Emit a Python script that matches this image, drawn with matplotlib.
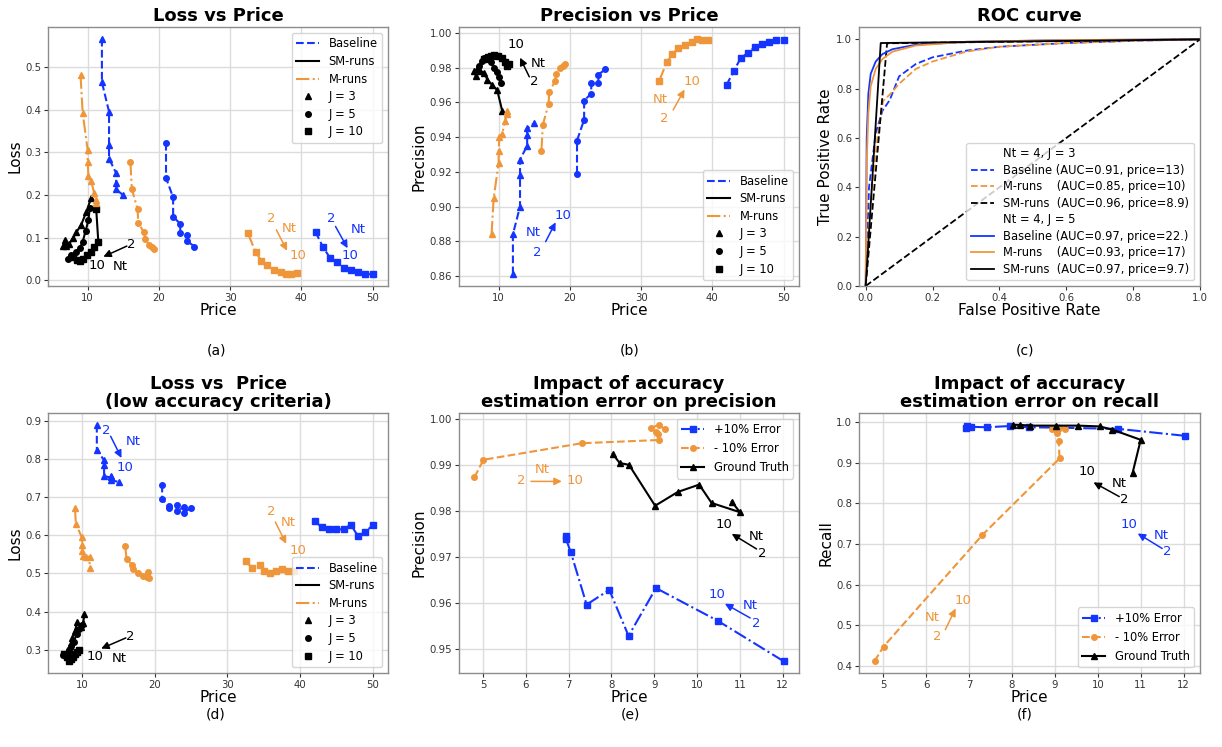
import matplotlib
matplotlib.use('Agg')
import matplotlib.pyplot as plt
from matplotlib.lines import Line2D

W, H = 1222, 747
BLUE = '#1434ff'
ORANGE = '#f0963a'

# ---------------- (a) Loss vs Price ----------------
base_j3_price = [12, 12, 13, 13, 13, 14, 14, 14, 15]
base_j5_price = [21, 21, 22, 22, 23, 23, 24, 24, 25]
base_j10_price = [42, 43, 44, 45, 46, 47, 48, 49, 50]
m_j3_price = [9.0, 9.3, 10.0, 10.0, 10.1, 10.5, 10.9, 11.1, 11.1]
m_j5_price = [16.0, 16.2, 17.0, 17.1, 17.9, 18.1, 18.6, 19.0, 19.3]
m_j10_price = [32.5, 33.6, 34.4, 35.2, 36.1, 37.1, 37.8, 38.5, 39.4]
sm_j3_price = [10.5, 9.8, 9.1, 8.4, 8.0, 7.4, 7.0, 6.8, 6.6]
sm_j5_price = [10.3, 10.1, 9.7, 9.3, 8.9, 8.4, 8.0, 7.6, 7.3]
sm_j10_price = [11.2, 11.5, 10.9, 10.4, 9.9, 9.4, 8.9, 8.5, 8.0]

base_j3_loss = [0.566, 0.464, 0.395, 0.318, 0.285, 0.251, 0.227, 0.213, 0.199]
base_j5_loss = [0.322, 0.240, 0.194, 0.149, 0.132, 0.111, 0.107, 0.091, 0.079]
base_j10_loss = [0.113, 0.079, 0.053, 0.042, 0.029, 0.023, 0.019, 0.014, 0.014]
m_j3_loss = [0.480, 0.392, 0.305, 0.277, 0.244, 0.232, 0.205, 0.189, 0.180]
m_j5_loss = [0.277, 0.214, 0.167, 0.135, 0.112, 0.096, 0.083, 0.079, 0.073]
m_j10_loss = [0.110, 0.065, 0.046, 0.035, 0.025, 0.020, 0.014, 0.014, 0.016]
sm_j3_loss = [0.193, 0.160, 0.130, 0.112, 0.100, 0.085, 0.080, 0.095, 0.080]
sm_j5_loss = [0.170, 0.140, 0.115, 0.090, 0.075, 0.065, 0.055, 0.060, 0.050]
sm_j10_loss = [0.166, 0.089, 0.079, 0.066, 0.058, 0.050, 0.046, 0.048, 0.055]

# ---------------- (b) Precision vs Price ----------------
base_j3_prec = [0.861, 0.884, 0.900, 0.918, 0.927, 0.935, 0.941, 0.945, 0.948]
base_j5_prec = [0.919, 0.938, 0.950, 0.961, 0.965, 0.971, 0.971, 0.976, 0.979]
base_j10_prec = [0.970, 0.978, 0.9855, 0.9885, 0.992, 0.9937, 0.9947, 0.996, 0.996]
m_j3_prec = [0.884, 0.905, 0.925, 0.932, 0.940, 0.942, 0.949, 0.953, 0.955]
m_j5_prec = [0.932, 0.947, 0.959, 0.966, 0.972, 0.9765, 0.9795, 0.981, 0.982]
m_j10_prec = [0.972, 0.983, 0.988, 0.991, 0.993, 0.9947, 0.9966, 0.996, 0.996]
sm_j3_prec = [0.955, 0.967, 0.970, 0.973, 0.977, 0.978, 0.979, 0.975, 0.978]
sm_j5_prec = [0.971, 0.9745, 0.9775, 0.980, 0.983, 0.985, 0.9855, 0.984, 0.981]
sm_j10_prec = [0.981, 0.982, 0.983, 0.9855, 0.9865, 0.987, 0.9865, 0.986, 0.985]

# ---------------- (c) ROC curves ----------------
roc_base3_fpr = [0.0, 0.01, 0.03, 0.05, 0.072, 0.1, 0.15, 0.2, 0.3, 0.4, 0.6, 0.8, 1.0]
roc_base3_tpr = [0.0, 0.40, 0.62, 0.71, 0.754, 0.85, 0.90, 0.927, 0.954, 0.97, 0.985, 0.994, 1.0]
roc_m3_fpr = [0.0, 0.015, 0.035, 0.052, 0.075, 0.1, 0.15, 0.2, 0.3, 0.4, 0.6, 0.8, 1.0]
roc_m3_tpr = [0.0, 0.35, 0.60, 0.75, 0.78, 0.82, 0.88, 0.91, 0.95, 0.97, 0.985, 0.994, 1.0]
roc_sm3_fpr = [0.0, 0.064, 1.0]
roc_sm3_tpr = [0.0, 0.984, 1.0]
roc_base5_fpr = [0.0, 0.003, 0.008, 0.015, 0.03, 0.05, 0.08, 0.15, 0.3, 0.6, 1.0]
roc_base5_tpr = [0.0, 0.60, 0.78, 0.86, 0.91, 0.94, 0.96, 0.978, 0.99, 0.997, 1.0]
roc_m5_fpr = [0.0, 0.003, 0.008, 0.015, 0.03, 0.05, 0.08, 0.15, 0.3, 0.6, 1.0]
roc_m5_tpr = [0.0, 0.50, 0.70, 0.81, 0.88, 0.92, 0.95, 0.975, 0.99, 0.997, 1.0]
roc_sm5_fpr = [0.0, 0.045, 1.0]
roc_sm5_tpr = [0.0, 0.985, 1.0]
chance = [0.0, 1.0]

roc_labels = ['Nt = 4, J = 3',
              'Baseline (AUC=0.91, price=13)',
              'M-runs    (AUC=0.85, price=10)',
              'SM-runs  (AUC=0.96, price=8.9)',
              'Nt = 4, J = 5',
              'Baseline (AUC=0.97, price=22.)',
              'M-runs    (AUC=0.93, price=17)',
              'SM-runs  (AUC=0.97, price=9.7)']

# ---------------- (d) Loss vs Price, low accuracy criteria ----------------
d_base_j3_loss = [0.890, 0.824, 0.797, 0.785, 0.755, 0.752, 0.757, 0.745, 0.740]
d_base_j5_loss = [0.733, 0.695, 0.676, 0.672, 0.680, 0.664, 0.674, 0.659, 0.673]
d_base_j10_loss = [0.637, 0.622, 0.616, 0.616, 0.616, 0.628, 0.598, 0.609, 0.626]
d_m_j3_price = [9.0, 9.1, 9.9, 10.0, 10.0, 10.1, 10.5, 11.0, 11.0]
d_m_j3_loss = [0.671, 0.631, 0.596, 0.574, 0.560, 0.547, 0.543, 0.544, 0.514]
d_m_j5_price = [15.9, 16.1, 16.9, 17.0, 17.7, 18.4, 18.9, 19.0, 19.2]
d_m_j5_loss = [0.572, 0.538, 0.522, 0.512, 0.500, 0.494, 0.490, 0.503, 0.487]
d_m_j10_price = [32.5, 33.4, 34.5, 35.1, 35.9, 36.7, 37.5, 38.3, 39.2]
d_m_j10_loss = [0.534, 0.514, 0.522, 0.507, 0.500, 0.507, 0.511, 0.507, 0.507]
d_sm_j3_price = [10.3, 10.1, 9.8, 9.3, 9.0, 8.6, 8.3, 8.0, 7.7]
d_sm_j3_loss = [0.393, 0.370, 0.360, 0.372, 0.350, 0.330, 0.310, 0.300, 0.290]
d_sm_j5_price = [9.9, 9.6, 9.2, 8.8, 8.5, 8.2, 7.9, 7.6, 7.4]
d_sm_j5_loss = [0.365, 0.355, 0.340, 0.320, 0.310, 0.300, 0.290, 0.290, 0.285]
d_sm_j10_price = [9.5, 9.3, 9.0, 8.7, 8.4, 8.1, 7.9, 7.7, 7.5]
d_sm_j10_loss = [0.300, 0.295, 0.290, 0.280, 0.275, 0.270, 0.280, 0.285, 0.290]

# ---------------- (e)/(f) accuracy estimation error ----------------
plus_price = [12.02, 10.48, 9.04, 8.40, 7.95, 7.42, 7.05, 6.94, 6.95]
plus_prec = [0.9473, 0.9561, 0.9632, 0.9528, 0.9628, 0.9596, 0.9710, 0.9738, 0.9745]
plus_recall = [0.967, 0.984, 0.987, 0.988, 0.991, 0.988, 0.989, 0.986, 0.990]
minus_price = [4.80, 5.01, 7.31, 9.11, 9.09, 9.05, 8.93, 9.10, 9.24]
minus_prec = [0.9873, 0.9911, 0.9947, 0.9954, 0.9968, 0.9972, 0.9980, 0.9987, 0.9978]
minus_recall = [0.411, 0.447, 0.722, 0.911, 0.953, 0.974, 0.984, 0.985, 0.984]
gt_price = [10.81, 11.0, 10.34, 10.05, 9.55, 9.02, 8.41, 8.19, 8.03]
gt_prec = [0.9820, 0.9797, 0.9817, 0.9857, 0.9841, 0.9811, 0.9900, 0.9904, 0.9924]
gt_recall = [0.875, 0.957, 0.982, 0.990, 0.992, 0.992, 0.992, 0.994, 0.994]


plt.rcParams['font.family'] = 'DejaVu Sans'
fig = plt.figure(figsize=(W / 100, H / 100), dpi=100)


def make_ax(l, t, r, b, grid=True):
    ax = fig.add_axes([l / W, 1 - b / H, (r - l) / W, (b - t) / H])
    for s in ax.spines.values():
        s.set_color('#8c8c8c')
        s.set_linewidth(1.0)
    ax.tick_params(labelsize=7.3, colors='#333333', length=3, width=0.8, pad=2)
    if grid:
        ax.grid(True, color='#dcdcdc', linewidth=1.0)
        ax.set_axisbelow(True)
    return ax


def note(ax, color, labels, start, end):
    # labels: list of (text, x, y)
    for txt, x, y in labels:
        ax.text(x, y, txt, color=color, fontsize=9.5, ha='center', va='center')
    ax.annotate('', xy=end, xytext=start,
                arrowprops=dict(arrowstyle='-|>', color=color, lw=1.1,
                                mutation_scale=11, shrinkA=0, shrinkB=0))


def groups(ax, series):
    for price, val, color, ls, mk in series:
        ax.plot(price, val, color=color, linestyle=ls, marker=mk, markersize=4, lw=1.5)


def j_legend(ax, loc):
    handles = [Line2D([], [], color=BLUE, ls='--', lw=1.5),
               Line2D([], [], color='black', ls='-', lw=1.5),
               Line2D([], [], color=ORANGE, ls='-.', lw=1.5),
               Line2D([], [], color='black', ls='none', marker='^', ms=4),
               Line2D([], [], color='black', ls='none', marker='o', ms=4),
               Line2D([], [], color='black', ls='none', marker='s', ms=4)]
    labels = ['Baseline', 'SM-runs', 'M-runs', 'J = 3', 'J = 5', 'J = 10']
    ax.legend(handles, labels, loc=loc, fontsize=8.3, framealpha=0.8,
              labelspacing=0.4)


def labels(ax, title, ylabel, xlabel='Price'):
    ax.set_title(title, fontsize=13, fontweight='bold', pad=4, linespacing=1.0)
    ax.set_xlabel(xlabel, fontsize=11, labelpad=0)
    ax.set_ylabel(ylabel, fontsize=11, labelpad=2)


# (a)
ax = make_ax(48, 27, 388, 286)
groups(ax, [
    (base_j3_price, base_j3_loss, BLUE, '--', '^'),
    (base_j5_price, base_j5_loss, BLUE, '--', 'o'),
    (base_j10_price, base_j10_loss, BLUE, '--', 's'),
    (sm_j3_price, sm_j3_loss, 'black', '-', '^'),
    (sm_j5_price, sm_j5_loss, 'black', '-', 'o'),
    (sm_j10_price, sm_j10_loss, 'black', '-', 's'),
    (m_j3_price, m_j3_loss, ORANGE, '-.', '^'),
    (m_j5_price, m_j5_loss, ORANGE, '-.', 'o'),
    (m_j10_price, m_j10_loss, ORANGE, '-.', 's'),
])
ax.set_xticks([10, 20, 30, 40, 50])
labels(ax, 'Loss vs Price', 'Loss')
j_legend(ax, 'upper right')
note(ax, ORANGE, [('2', 35.8, 0.145), ('Nt', 38.3, 0.122), ('10', 39.5, 0.057)],
     (36.5, 0.118), (38.0, 0.069))
note(ax, BLUE, [('2', 44.2, 0.145), ('Nt', 48.0, 0.120), ('10', 46.8, 0.059)],
     (44.8, 0.126), (46.5, 0.075))
note(ax, 'black', [('2', 16.1, 0.083), ('10', 11.3, 0.034), ('Nt', 14.6, 0.031)],
     (15.5, 0.080), (12.2, 0.055))

# (b)
ax = make_ax(459, 27, 799, 286)
groups(ax, [
    (base_j3_price, base_j3_prec, BLUE, '--', '^'),
    (base_j5_price, base_j5_prec, BLUE, '--', 'o'),
    (base_j10_price, base_j10_prec, BLUE, '--', 's'),
    (sm_j3_price, sm_j3_prec, 'black', '-', '^'),
    (sm_j5_price, sm_j5_prec, 'black', '-', 'o'),
    (sm_j10_price, sm_j10_prec, 'black', '-', 's'),
    (m_j3_price, m_j3_prec, ORANGE, '-.', '^'),
    (m_j5_price, m_j5_prec, ORANGE, '-.', 'o'),
    (m_j10_price, m_j10_prec, ORANGE, '-.', 's'),
])
ax.set_xticks([10, 20, 30, 40, 50])
ax.set_yticks([0.86, 0.88, 0.90, 0.92, 0.94, 0.96, 0.98, 1.00])
labels(ax, 'Precision vs Price', 'Precision')
j_legend(ax, 'lower right')
note(ax, 'black', [('10', 12.4, 0.9931), ('Nt', 15.6, 0.9823), ('2', 15.0, 0.9718)],
     (14.3, 0.9747), (13.0, 0.9857))
note(ax, BLUE, [('Nt', 14.8, 0.885), ('2', 15.4, 0.8737), ('10', 19.1, 0.8947)],
     (16.6, 0.8798), (18.0, 0.8909))
note(ax, ORANGE, [('Nt', 32.7, 0.9617), ('2', 33.3, 0.9509), ('10', 37.1, 0.9718)],
     (34.5, 0.9556), (36.1, 0.9674))

# (c)
ax = make_ax(859, 27, 1200, 286, grid=False)
l1, = ax.plot([], [], color='none')
l2, = ax.plot(roc_base3_fpr, roc_base3_tpr, color=BLUE, ls='--', lw=1.3)
l3, = ax.plot(roc_m3_fpr, roc_m3_tpr, color=ORANGE, ls='--', lw=1.3)
l4, = ax.plot(roc_sm3_fpr, roc_sm3_tpr, color='black', ls='--', lw=1.3)
l5, = ax.plot([], [], color='none')
l6, = ax.plot(roc_base5_fpr, roc_base5_tpr, color=BLUE, ls='-', lw=1.3)
l7, = ax.plot(roc_m5_fpr, roc_m5_tpr, color=ORANGE, ls='-', lw=1.3)
l8, = ax.plot(roc_sm5_fpr, roc_sm5_tpr, color='black', ls='-', lw=1.3)
ax.plot(chance, chance, color='black', ls='--', lw=1.3)
ax.set_xlim(-0.02, 1.0)
ax.set_ylim(0.0, 1.05)
ax.set_xticks([0.0, 0.2, 0.4, 0.6, 0.8, 1.0])
ax.set_yticks([0.0, 0.2, 0.4, 0.6, 0.8, 1.0])
labels(ax, 'ROC curve', 'True Positive Rate', 'False Positive Rate')
ax.legend([l1, l2, l3, l4, l5, l6, l7, l8], roc_labels, loc='lower right',
          fontsize=8.3, framealpha=0.8, handlelength=2.0, labelspacing=0.3)

# (d)
ax = make_ax(48, 413, 388, 673)
groups(ax, [
    (base_j3_price, d_base_j3_loss, BLUE, '--', '^'),
    (base_j5_price, d_base_j5_loss, BLUE, '--', 'o'),
    (base_j10_price, d_base_j10_loss, BLUE, '--', 's'),
    (d_sm_j3_price, d_sm_j3_loss, 'black', '-', '^'),
    (d_sm_j5_price, d_sm_j5_loss, 'black', '-', 'o'),
    (d_sm_j10_price, d_sm_j10_loss, 'black', '-', 's'),
    (d_m_j3_price, d_m_j3_loss, ORANGE, '-.', '^'),
    (d_m_j5_price, d_m_j5_loss, ORANGE, '-.', 'o'),
    (d_m_j10_price, d_m_j10_loss, ORANGE, '-.', 's'),
])
ax.set_xticks([10, 20, 30, 40, 50])
labels(ax, 'Loss vs  Price\n(low accuracy criteria)', 'Loss')
j_legend(ax, 'lower right')
note(ax, BLUE, [('2', 13.3, 0.874), ('Nt', 17.0, 0.847), ('10', 15.9, 0.777)],
     (13.9, 0.860), (15.4, 0.803))
note(ax, ORANGE, [('2', 36.0, 0.662), ('Nt', 38.4, 0.633), ('10', 39.7, 0.560)],
     (36.6, 0.635), (38.1, 0.578))
note(ax, 'black', [('2', 16.6, 0.335), ('10', 11.8, 0.281), ('Nt', 15.1, 0.278)],
     (16.0, 0.331), (12.6, 0.303))


def err_legend(ax, loc):
    handles = [Line2D([], [], color=BLUE, ls='-.', marker='s', ms=4, lw=1.5),
               Line2D([], [], color=ORANGE, ls='--', marker='o', ms=4, lw=1.5),
               Line2D([], [], color='black', ls='-', marker='^', ms=4, lw=1.5)]
    ax.legend(handles, ['+10% Error', '- 10% Error', 'Ground Truth'], loc=loc,
              fontsize=8.3, framealpha=0.8)


# (e)
ax = make_ax(459, 413, 799, 673)
ax.plot(plus_price, plus_prec, color=BLUE, ls='-.', marker='s', ms=4, lw=1.5)
ax.plot(minus_price, minus_prec, color=ORANGE, ls='--', marker='o', ms=4, lw=1.5)
ax.plot(gt_price, gt_prec, color='black', ls='-', marker='^', ms=4, lw=1.5)
ax.set_xticks([5, 6, 7, 8, 9, 10, 11, 12])
ax.set_yticks([0.95, 0.96, 0.97, 0.98, 0.99, 1.00])
labels(ax, 'Impact of accuracy\nestimation error on precision', 'Precision')
err_legend(ax, 'upper right')
note(ax, ORANGE, [('Nt', 6.38, 0.9889), ('2', 5.89, 0.9866), ('10', 7.14, 0.9866)],
     (6.12, 0.9864), (6.84, 0.9864))
note(ax, 'black', [('10', 10.63, 0.9770), ('Nt', 11.39, 0.9745), ('2', 11.53, 0.9708)],
     (11.39, 0.9717), (10.81, 0.9750))
note(ax, BLUE, [('10', 10.47, 0.9618), ('Nt', 11.24, 0.9593), ('2', 11.38, 0.9556)],
     (11.24, 0.9567), (10.65, 0.9598))

# (f)
ax = make_ax(859, 413, 1200, 673)
ax.plot(plus_price, plus_recall, color=BLUE, ls='-.', marker='s', ms=4, lw=1.5)
ax.plot(minus_price, minus_recall, color=ORANGE, ls='--', marker='o', ms=4, lw=1.5)
ax.plot(gt_price, gt_recall, color='black', ls='-', marker='^', ms=4, lw=1.5)
ax.set_xticks([5, 6, 7, 8, 9, 10, 11, 12])
ax.set_yticks([0.4, 0.5, 0.6, 0.7, 0.8, 0.9, 1.0])
labels(ax, 'Impact of accuracy\nestimation error on recall', 'Recall')
err_legend(ax, 'lower right')
note(ax, 'black', [('10', 9.74, 0.879), ('Nt', 10.50, 0.850), ('2', 10.62, 0.809)],
     (10.50, 0.817), (9.90, 0.852))
note(ax, BLUE, [('10', 10.73, 0.749), ('Nt', 11.48, 0.722), ('2', 11.61, 0.681)],
     (11.50, 0.689), (10.93, 0.726))
note(ax, ORANGE, [('10', 6.86, 0.560), ('Nt', 6.14, 0.519), ('2', 6.25, 0.471)],
     (6.45, 0.489), (6.69, 0.541))

# panel captions
for txt, x, y in [('(a)', 216, 350), ('(b)', 630, 350), ('(c)', 1025, 350),
                  ('(d)', 216, 714), ('(e)', 630, 714), ('(f)', 1025, 714)]:
    fig.text(x / W, 1 - y / H, txt, fontsize=10, ha='center', va='center')

fig.savefig('out.png', dpi=100, facecolor='white')
